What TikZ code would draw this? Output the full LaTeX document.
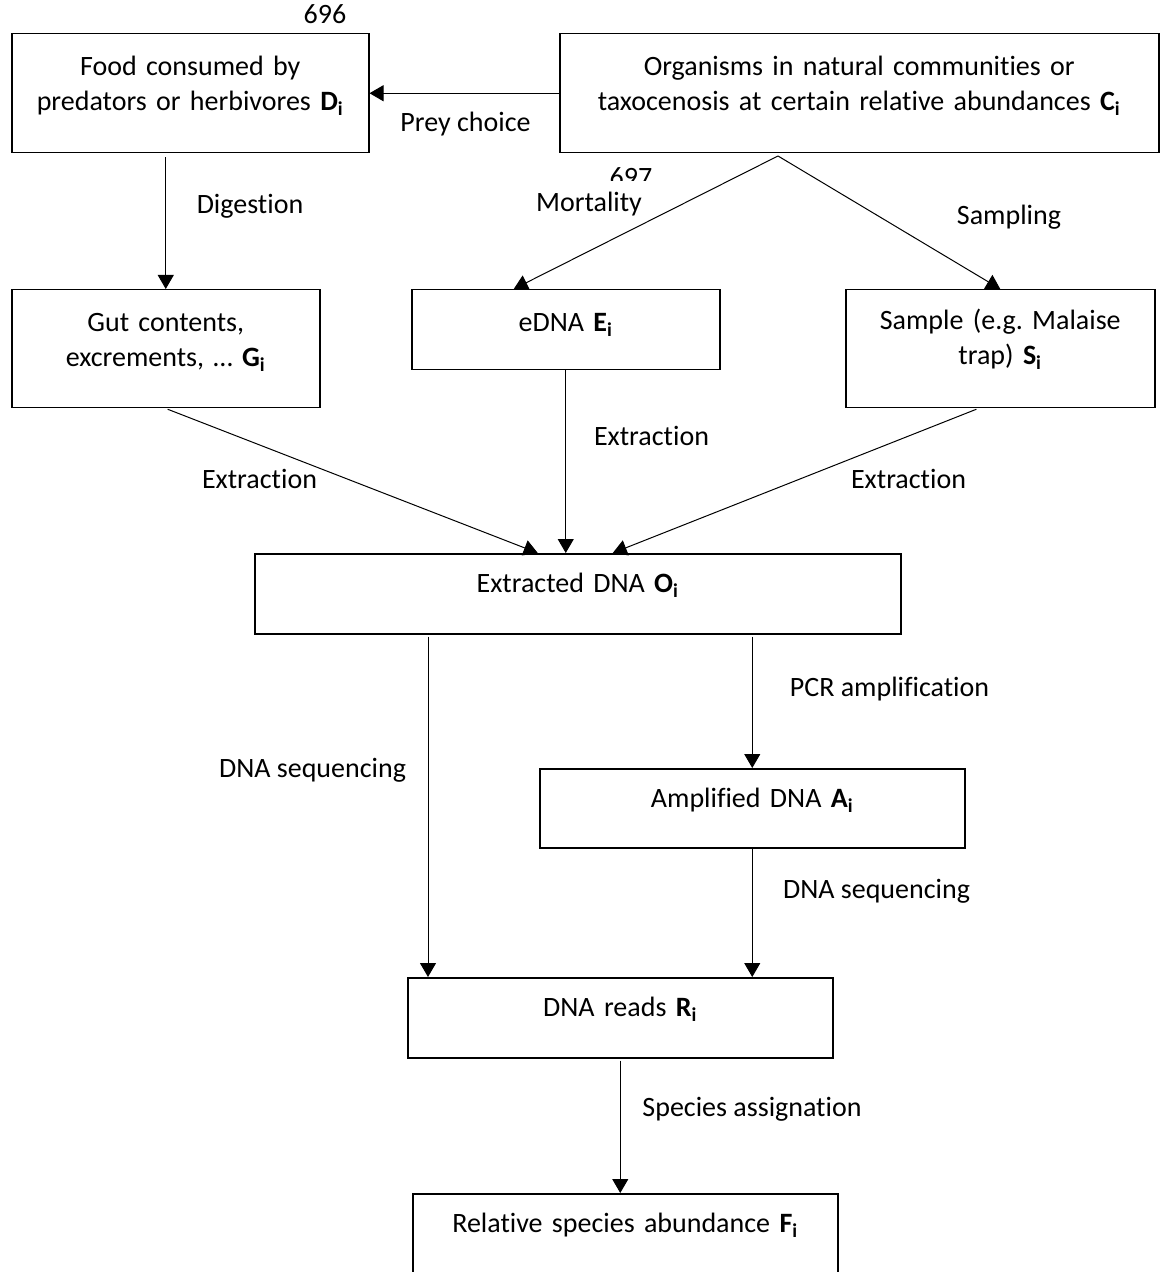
\documentclass[tikz,border=0pt]{standalone}
\usepackage{fontspec}
\setmainfont{Carlito}[Ligatures=NoCommon]
\frenchspacing
\usetikzlibrary{arrows.meta}

\begin{document}
\begin{tikzpicture}[x=0.5pt, y=-0.5pt, font=\fontsize{14pt}{17.5pt}\selectfont,
  st/.style={draw, line width=0.75pt, anchor=north west, inner sep=0pt, align=center},
  one/.style={st, text height=19.5pt, text depth=20.5pt},
  two/.style={st, text height=21pt, text depth=38.5pt},
  lb/.style={inner sep=0pt, text height=0.9em, text depth=0.04em},
  ar/.style={-{Triangle[length=7pt, width=8pt]}, line width=0.5pt}]
\useasboundingbox (0,0) rectangle (1160,1272);
\clip (0,0) rectangle (1160,1272);
% boxes
\node[two, text width=178.5pt] (food) at (11,33) {Food consumed by\\predators or herbivores \textbf{D\textsubscript{i}}};
\node[two, text width=299.5pt] (orgs) at (559,33) {Organisms in natural communities or\\taxocenosis at certain relative abundances \textbf{C\textsubscript{i}}};
\node[two, text width=154pt, text depth=38pt] (gut) at (11,289) {Gut contents,\\excrements, \dots\ \textbf{G\textsubscript{i}}};
\node[one, text width=154pt, text height=21pt, text depth=19pt] (edna) at (411,289) {eDNA \textbf{E\textsubscript{i}}};
\node[two, text width=154.5pt, text height=20pt, text depth=39pt] (samp) at (845,289) {Sample (e.g. Malaise\\trap) \textbf{S\textsubscript{i}}};
\node[one, text width=323pt] (dna) at (254,553) {Extracted DNA \textbf{O\textsubscript{i}}};
\node[one, text width=212.5pt, text depth=20pt] (amp) at (539,768) {Amplified DNA \textbf{A\textsubscript{i}}};
\node[one, text width=212.5pt] (reads) at (407,977) {DNA reads \textbf{R\textsubscript{i}}};
\node[one, text width=212.5pt, text depth=40pt] (abund) at (412,1193) {Relative species abundance \textbf{F\textsubscript{i}}};
% labels
\node[lb] (pg696) at (325,15) {696};
\node[lb] (pg697) at (631,178) {697};
\node[lb] (lprey) at (465.5,123) {Prey choice};
\node[lb] (ldig) at (250,205) {Digestion};
\node[lb, fill=white, inner xsep=5pt, inner ysep=6.4pt] (lmort) at (589,203) {Mortality};
\node[lb] (lsamp) at (1009,216) {Sampling};
\node[lb] (lextg) at (259.5,480) {Extraction};
\node[lb] (lexte) at (651.5,437) {Extraction};
\node[lb] (lexts) at (908.5,480) {Extraction};
\node[lb] (lseqo) at (312.5,769) {DNA sequencing};
\node[lb] (lpcr) at (889.5,688) {PCR amplification};
\node[lb] (lseqa) at (876.5,890) {DNA sequencing};
\node[lb] (lspec) at (752,1108) {Species assignation};
% connectors
\coordinate (fork) at (778,156);
\draw[ar] (orgs.west) -- (food.east);
\draw[ar, shorten <=2pt] (food.south -| gut.north) -- (gut.north);
\draw[ar] (fork) -- ([xshift=-26pt]edna.north);
\draw[ar] (fork) -- (samp.north);
\draw[ar, shorten <=1pt] (gut.south) -- ([xshift=-20pt]dna.north);
\draw[ar] (edna.south) -- (edna.south |- dna.north);
\draw[ar, shorten <=1pt] ([xshift=-11pt]samp.south) -- ([xshift=17.5pt]dna.north);
\draw[ar, shorten <=1pt] ([xshift=10.5pt]reads.north west |- dna.south) -- ([xshift=10.5pt]reads.north west);
\draw[ar, shorten <=1pt] (amp.north |- dna.south) -- (amp.north);
\draw[ar] (amp.south) -- (amp.south |- reads.north);
\draw[ar, shorten <=1pt] (reads.south) -- (reads.south |- abund.north);
\end{tikzpicture}
\end{document}
